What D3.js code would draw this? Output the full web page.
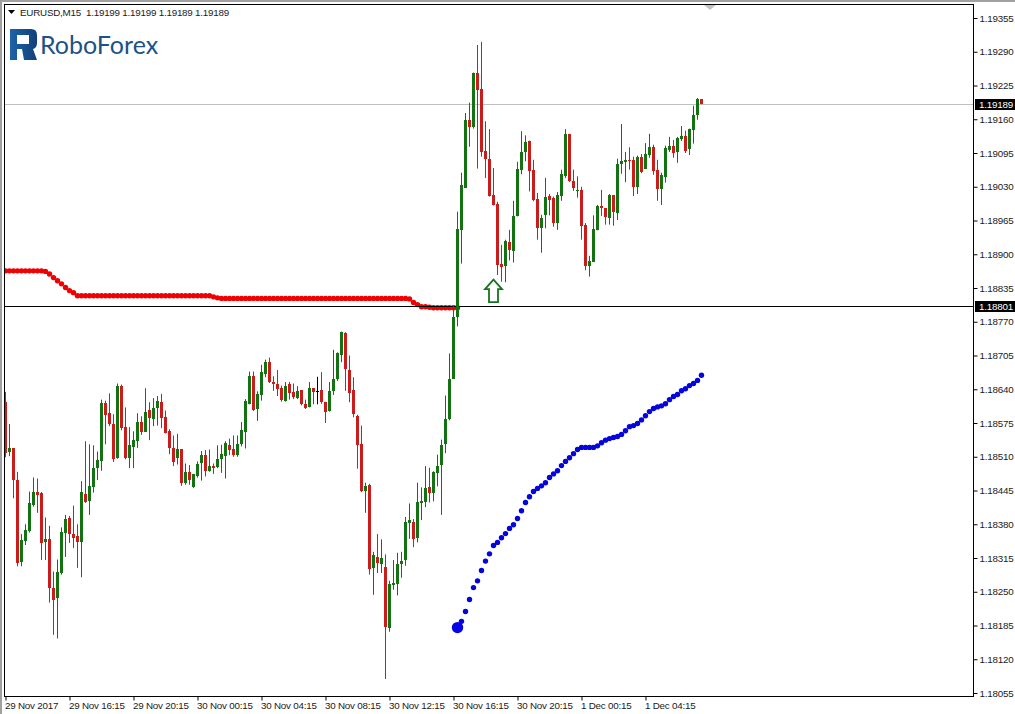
<!DOCTYPE html>
<html>
<head>
<meta charset="utf-8">
<script src="https://cdn.jsdelivr.net/npm/d3@7"></script>
<style>
  html, body { margin: 0; padding: 0; background: #fff; }
  svg { display: block; }
  text { font-family: "Liberation Sans", sans-serif; font-size: 9.8px; letter-spacing: -0.22px; fill: #1a1a1a; }
</style>
</head>
<body>
<div id="chart"></div>
<script>
// prices are kept as points above 1.18000
const priceBase = 1.18;
const point = 0.00001;

const opens = [
  616,519,526,466,307,348,366,417,443,441,
  346,351,257,238,287,365,392,362,357,346,
  439,425,452,488,502,614,594,574,507,646,
  567,506,529,541,577,558,600,583,604,615,
  586,559,527,506,524,459,481,451,474,497,
  513,482,492,490,506,511,533,524,513,534,
  558,612,665,602,629,669,693,654,651,642,
  618,650,634,624,638,612,606,642,636,638,
  616,598,636,659,706,749,678,638,588,534,
  443,456,295,317,304,297,181,263,265,303,
  311,383,385,353,421,422,451,440,480,494,
  533,582,660,779,947,1029,1158,1146,1249,1218,
  1099,1083,1014,997,881,878,924,907,973,1063,
  1097,1118,1063,1007,951,976,1013,1009,961,1012,
  1052,1131,1041,1022,1024,957,878,886,947,993,
  989,970,1014,980,1074,1078,1082,1082,1030,1088,
  1064,1091,1107,1063,1026,1049,1101,1109,1097,1122,
  1128,1103,1140,1168,1199];
const highs = [
  635,573,526,481,361,380,443,470,468,442,
  393,377,289,312,374,398,396,416,380,463,
  540,534,532,520,620,618,632,592,651,649,
  605,567,559,594,588,642,615,623,627,631,
  599,563,551,554,524,497,494,477,501,521,
  523,524,497,532,533,540,545,551,551,577,
  621,674,674,636,687,697,701,665,677,647,
  654,654,651,646,638,620,654,642,664,673,
  616,654,716,711,751,750,705,663,591,570,
  460,458,327,361,351,322,271,311,325,327,
  394,420,390,460,451,492,489,482,514,543,
  628,709,801,982,1057,1172,1192,1250,1303,1309,
  1156,1141,1066,1001,918,928,947,1003,1078,1137,
  1129,1119,1082,1018,976,1047,1016,1011,1020,1063,
  1141,1132,1063,1050,1030,960,897,975,995,1024,
  989,1016,1014,1084,1151,1097,1106,1088,1090,1093,
  1114,1132,1111,1082,1057,1109,1126,1120,1126,1147,
  1138,1142,1186,1201,1199];
const lows = [
  509,511,430,299,299,340,364,414,402,311,
  311,229,167,160,283,317,344,334,296,278,
  421,398,441,465,483,534,569,500,506,561,
  505,488,488,527,552,558,542,569,570,565,
  555,515,492,495,454,456,456,450,470,464,
  472,481,477,488,479,468,513,510,510,530,
  526,611,598,579,618,663,652,637,627,616,
  616,620,621,621,609,602,605,611,611,612,
  575,597,629,656,692,637,615,586,487,442,
  402,283,244,286,286,82,173,254,243,277,
  300,352,336,345,388,413,422,424,453,398,
  517,580,660,761,882,1028,1107,1142,1065,1088,
  1047,1011,994,860,847,846,888,884,973,1054,
  1079,1021,1002,928,903,950,975,953,947,1003,
  1047,1039,1022,1009,928,869,857,886,946,974,
  957,957,955,966,1055,1039,1063,1012,1016,1056,
  1064,1086,1053,1003,995,1038,1097,1086,1076,1118,
  1095,1091,1113,1159,1189];
const closes = [
  518,526,465,307,350,369,420,443,438,344,
  351,256,234,288,366,391,362,354,346,442,
  423,454,488,504,614,591,572,507,646,565,
  507,532,542,577,558,597,585,604,617,585,
  556,526,501,524,459,481,465,477,497,513,
  482,492,488,506,515,536,523,512,535,561,
  617,665,600,630,673,692,654,650,642,618,
  647,633,624,637,611,605,642,634,636,615,
  597,636,659,709,750,679,634,592,533,443,
  453,295,320,306,315,181,265,267,304,309,
  384,388,353,422,424,449,440,480,493,532,
  582,659,779,948,1034,1159,1145,1250,1217,1096,
  1084,1012,995,880,876,926,908,974,1064,1097,
  1116,1061,1006,951,970,1010,1005,960,1014,1054,
  1132,1040,1027,1023,955,878,887,949,993,989,
  971,1014,982,1074,1080,1082,1080,1030,1088,1060,
  1093,1106,1060,1026,1052,1104,1109,1095,1124,1128,
  1100,1141,1168,1199,1189];

// red indicator, from the first bar
const redDots = [
  868,868,868,868,868,868,868,868,868,868,
  867,862,855,849,843,836,830,826,820,820,
  820,820,820,820,820,820,820,820,820,820,
  820,820,820,820,820,820,820,820,820,820,
  820,820,820,820,820,820,820,820,820,820,
  820,820,818,816,815,815,815,815,815,815,
  815,815,815,815,815,815,815,815,815,815,
  815,815,815,815,815,815,815,815,815,815,
  815,815,815,815,815,815,815,815,815,815,
  815,815,815,815,815,815,815,815,815,815,
  815,814,807,803,799,799,798,797,797,797,
  797,797,797,797];

// blue indicator, starts at bar 113
const blueStart = 113;
const blueDots = [
  181,193,212,235,258,271,291,309,323,339,
  345,354,362,372,379,391,406,422,433,443,
  449,454,460,470,477,483,493,501,508,516,
  524,528,528,528,528,531,537,542,545,547,
  549,553,560,568,570,574,581,589,597,603,
  606,608,612,620,626,630,637,641,647,651,
  657,667];

const priceTicks = [1.19355,1.1929,1.19225,1.1916,1.19095,1.1903,1.18965,1.189,1.18835,1.1877,1.18705,
  1.1864,1.18575,1.1851,1.18445,1.1838,1.18315,1.1825,1.18185,1.1812,1.18055];
const timeTickBars = [0,16,32,48,64,80,96,112,128,144,160];
const timeTickLabels = ["29 Nov 2017","29 Nov 16:15","29 Nov 20:15","30 Nov 00:15","30 Nov 04:15","30 Nov 08:15",
  "30 Nov 12:15","30 Nov 16:15","30 Nov 20:15","1 Dec 00:15","1 Dec 04:15"];

const header = "EURUSD,M15  1.19199 1.19199 1.19189 1.19189";
const bidPrice = 1.19189;
const levelPrice = 1.18801;
const arrowBar = 122;
const arrowPrice = 1.18851;

const width = 1015, height = 714;
const left = 4, right = 973, top_ = 4, bottom = 696;

const svg = d3.select("#chart").append("svg")
  .attr("width", width)
  .attr("height", height);

const defs = svg.append("defs");
defs.append("clipPath").attr("id", "plot").append("rect")
  .attr("x", left + 1).attr("y", top_).attr("width", right - left).attr("height", bottom - top_);

const x = d3.scaleLinear().domain([0, 174]).range([5, 701]);
const y = d3.scaleLinear().domain([1.18055, 1.19355]).range([693, 18]);
const py = p => y(priceBase + p * point);

// window edges
svg.append("rect").attr("x", 0).attr("y", 0).attr("width", width).attr("height", 2).attr("fill", "#a0a0a0");
svg.append("rect").attr("x", 0).attr("y", 0).attr("width", 2).attr("height", height).attr("fill", "#a0a0a0");

// logo
const logo = svg.append("g").attr("class", "logo");
const grad = defs.append("linearGradient").attr("id", "logoFill");
grad.append("stop").attr("offset", "0%").attr("stop-color", "#1d64a8");
grad.append("stop").attr("offset", "100%").attr("stop-color", "#123f78");
logo.append("path")
  .attr("fill", "url(#logoFill)")
  .attr("fill-rule", "evenodd")
  .attr("d", "M10 29H31Q37 29 37 35V43Q37 48 33 49L37 60H24L22 49H17V60H10ZM17 35V44H29V35Z");
logo.append("text")
  .attr("x", 40).attr("y", 54)
  .style("font-family", "Lato, sans-serif")
  .style("font-size", "25px")
  .style("letter-spacing", "0")
  .style("fill", "#1c5288")
  .text("RoboForex");

// header
svg.append("path").attr("d", "M8 10H15L11.5 14Z").attr("fill", "#000");
svg.append("text").attr("x", 20).attr("y", 16).attr("xml:space", "preserve").text(header);

// level lines
svg.append("line").attr("x1", left).attr("x2", right)
  .attr("y1", Math.round(y(bidPrice)) + 0.5).attr("y2", Math.round(y(bidPrice)) + 0.5)
  .attr("stroke", "#c0c0c0");

// red indicator
svg.append("g").attr("clip-path", "url(#plot)")
  .selectAll("circle").data(redDots).join("circle")
  .attr("cx", (d, i) => x(i) + 0.5)
  .attr("cy", d => py(d))
  .attr("r", 2.7)
  .attr("fill", "#f00000");

svg.append("line").attr("x1", left).attr("x2", right)
  .attr("y1", Math.round(y(levelPrice)) + 0.5).attr("y2", Math.round(y(levelPrice)) + 0.5)
  .attr("stroke", "#000");

// candles
const upColor = "#137313", downColor = "#cb1c1c";
const candleColor = i => closes[i] > opens[i] ? upColor : closes[i] < opens[i] ? downColor : "#000";
const candles = svg.append("g").attr("clip-path", "url(#plot)")
  .selectAll("g").data(opens).join("g");

candles.append("line")
  .attr("x1", (d, i) => x(i) + 0.5).attr("x2", (d, i) => x(i) + 0.5)
  .attr("y1", (d, i) => py(highs[i])).attr("y2", (d, i) => py(lows[i]))
  .attr("stroke", (d, i) => candleColor(i));
candles.append("rect")
  .attr("x", (d, i) => x(i) - 1)
  .attr("y", (d, i) => Math.round(py(Math.max(opens[i], closes[i]))))
  .attr("width", 3)
  .attr("height", (d, i) => Math.max(1, Math.round(Math.abs(py(opens[i]) - py(closes[i])))))
  .attr("fill", (d, i) => candleColor(i));

// blue indicator
svg.append("g").selectAll("circle").data(blueDots).join("circle")
  .attr("cx", (d, i) => x(i + blueStart) + 0.5)
  .attr("cy", d => py(d))
  .attr("r", 2.7)
  .attr("fill", "#0404dc");
svg.append("circle")
  .attr("cx", x(blueStart) + 0.5)
  .attr("cy", py(blueDots[0]))
  .attr("r", 5.7)
  .attr("fill", "#0404e6");

// buy arrow
svg.append("path")
  .attr("transform", `translate(${x(arrowBar) + 0.5},${y(arrowPrice)})`)
  .attr("d", "M0 0L8.5 9.5H4.5V22.5H-4.5V9.5H-8.5Z")
  .attr("fill", "#fff")
  .attr("stroke", "#16731f")
  .attr("stroke-width", 1.8);

// frame
svg.append("rect")
  .attr("x", left + 0.5).attr("y", top_ + 0.5)
  .attr("width", right - left).attr("height", bottom - top_)
  .attr("fill", "none").attr("stroke", "#000");

// small grey marker on the top edge
svg.append("path").attr("d", "M704 5H716L710 10Z").attr("fill", "#c4c4c4");

// axes
const yAxis = d3.axisRight(y).tickValues(priceTicks).tickSize(4).tickPadding(2).tickFormat(d3.format(".5f"));
const gy = svg.append("g").attr("transform", `translate(${right + 0.5},0)`).call(yAxis);
gy.select(".domain").remove();
gy.selectAll("line").attr("stroke", "#000");
gy.selectAll("text").attr("fill", null);

const xAxis = d3.axisBottom(x).tickValues(timeTickBars).tickSize(4).tickPadding(2)
  .tickFormat((d, i) => timeTickLabels[i]);
const gx = svg.append("g").attr("transform", `translate(0.5,${bottom + 0.5})`).call(xAxis);
gx.select(".domain").remove();
gx.selectAll("line").attr("stroke", "#000");
gx.selectAll("text").attr("text-anchor", "start").attr("dx", -1).attr("fill", null);

// price boxes
[bidPrice, levelPrice].forEach(p => {
  const yp = Math.round(y(p));
  svg.append("rect").attr("x", right + 2).attr("y", yp - 5).attr("width", width - right - 2).attr("height", 11).attr("fill", "#000");
  svg.append("text").attr("x", right + 6).attr("y", yp + 3.5).style("fill", "#fff").text(d3.format(".5f")(p));
});
</script>
</body>
</html>
